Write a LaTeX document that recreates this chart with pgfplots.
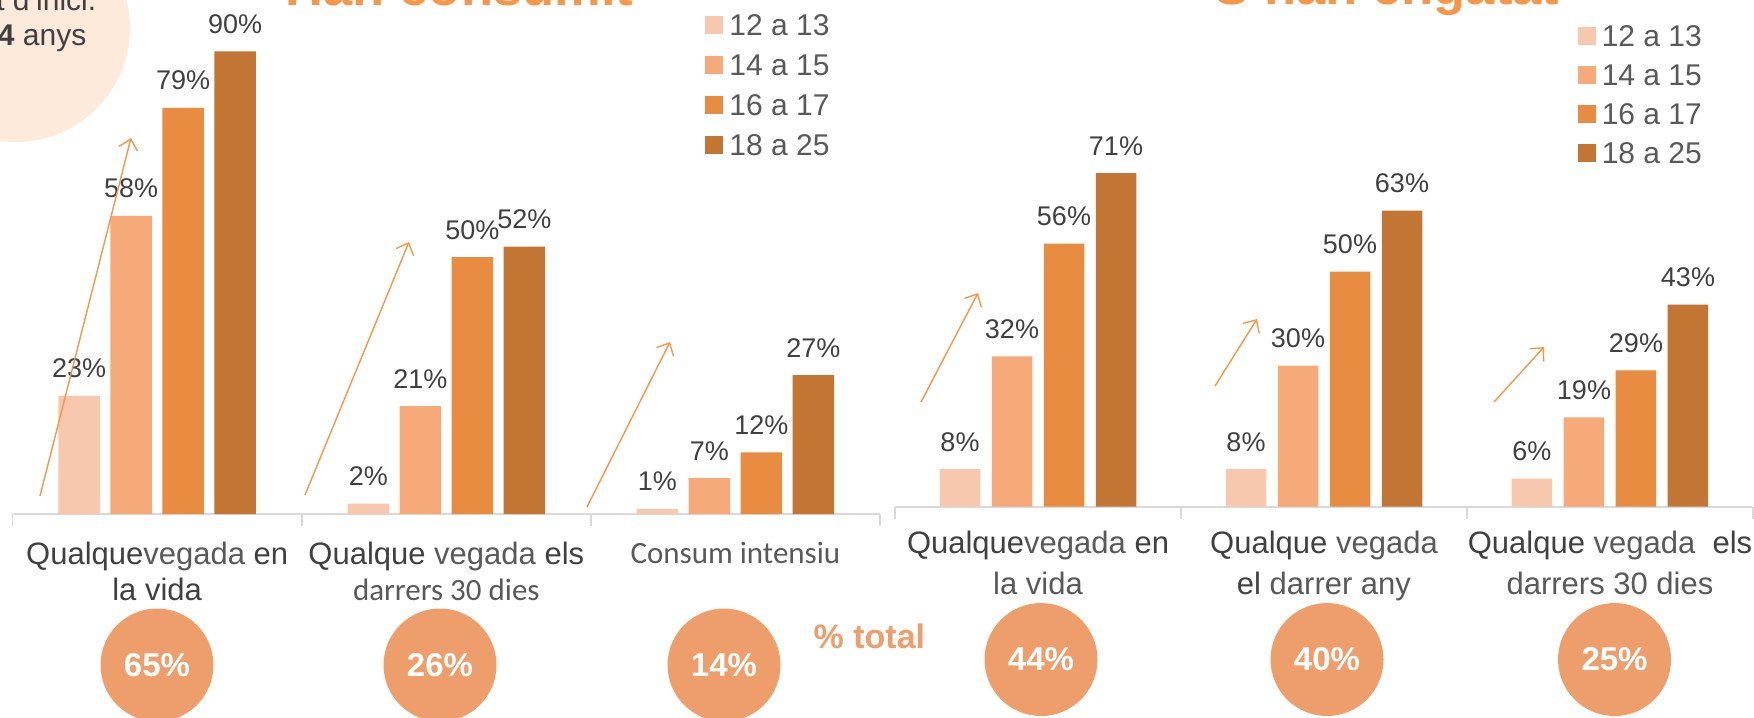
\documentclass[border=0pt]{standalone}
\usepackage{fontspec}
\setmainfont{Liberation Sans}
\newfontfamily\calibri{Carlito}
\usepackage{pgfplots}
\pgfplotsset{compat=1.18}
\usetikzlibrary{arrows.meta}

\definecolor{ageA}{HTML}{F8C8AE}
\definecolor{ageB}{HTML}{F6A979}
\definecolor{ageC}{HTML}{E78C41}
\definecolor{ageD}{HTML}{C37534}
\definecolor{titleor}{HTML}{F79646}
\definecolor{circor}{HTML}{EE9E6B}
\definecolor{peach}{HTML}{FDEADB}
\definecolor{txt}{HTML}{404040}
\definecolor{txtl}{HTML}{595959}
\definecolor{axline}{HTML}{D9D9D9}

\pgfplotsset{
  chart/.style={
    scale only axis, anchor=south west, clip=false,
    xmin=-0.5, xmax=2.5, ymin=0, ymax=100,
    hide y axis, axis x line*=bottom,
    x axis line style={draw=axline, line width=0.45pt},
    xtick={0,1,2}, x tick style={draw=none},
    major tick length=1.2mm, tick align=outside,
    extra x ticks={-0.5,0.5,1.5,2.5}, extra x tick labels={,,,},
    extra x tick style={x tick style={draw=axline, line width=0.45pt}},
    /pgf/number format/assume math mode=true,
    nodes near coords={\pgfmathprintnumber{\pgfplotspointmeta}\%},
    every node near coord/.append style={anchor=base, yshift=1.8mm, inner sep=0pt,
      text=txt, font=\fontsize{2.7mm}{2.7mm}\selectfont},
    every axis plot post/.append style={
      legend image code/.code={\fill[##1,draw=none] (0mm,-0.9mm) rectangle (1.8mm,0.9mm);}},
    legend style={draw=none, fill=none, inner sep=0pt, anchor=north west,
      font=\fontsize{3.0mm}{3.0mm}\selectfont, text=txtl,
      nodes={inner sep=0pt, text height=2.2mm, text depth=0pt},
      /tikz/every odd column/.append style={column sep=0.6mm}},
  }
}

\begin{document}
\begin{tikzpicture}[x=0.1mm, y=0.1mm, every node/.style={inner sep=0pt}]
\path[use as bounding box, clip] (0,0) rectangle (1754,717);

% circle with the age of first use, top left
\fill[peach] (16,689) circle[radius=11.4mm];
\node[anchor=base east, text=txt, font=\fontsize{3.0mm}{3.0mm}\selectfont] at (97,707) {Edat d'inici.};
\node[anchor=base east, text=txt, font=\fontsize{3.0mm}{3.0mm}\selectfont] at (87,672) {\textbf{14} anys};

% titles, cut by the top edge
\node[anchor=base west, text=titleor, font=\bfseries\fontsize{5.26mm}{5.26mm}\selectfont] at (285,712) {Han consumit};
\node[anchor=base east, text=titleor, font=\bfseries\fontsize{5.26mm}{5.26mm}\selectfont] at (1560,713) {S'han engatat};

\begin{axis}[chart,
  at={(1.26mm,20.3mm)}, width=86.74mm, height=51.4mm,
  ybar=1.05mm, bar width=4.15mm,
  xticklabel style={align=center, inner sep=0pt, text=txt,
    font=\fontsize{3.1mm}{3.55mm}\selectfont, yshift=-1.55mm},
  xticklabels={{Qualque\textcolor{txtl}{vegada} en\\la vida},
               {Qualque \textcolor{txtl}{vegada} els\\{\calibri\textcolor{txtl}{darrers 30 dies}}},
               {{\calibri\textcolor{txtl}{Consum intensiu}}}},
  legend style={at={(0.798,0.975)}, row sep=1.8mm},
]
\addplot[fill=ageA, draw=none] coordinates {(0,23) (1,2) (2,1)};
\addplot[fill=ageB, draw=none] coordinates {(0,58) (1,21) (2,7)};
\addplot[fill=ageC, draw=none] coordinates {(0,79) (1,50) (2,12)};
\addplot[fill=ageD, draw=none] coordinates {(0,90) (1,52) (2,27)};
\legend{12 a 13,14 a 15,16 a 17,18 a 25}
\end{axis}

\begin{axis}[chart,
  at={(89.5mm,21.03mm)}, width=85.8mm, height=47mm,
  ybar=1.15mm, bar width=4.05mm,
  xticklabel style={align=center, inner sep=0pt, text=txt,
    font=\fontsize{3.1mm}{4.1mm}\selectfont, yshift=-1.2mm},
  xticklabels={{Qualque\textcolor{txtl}{vegada} en\\\textcolor{txtl}{la vida}},
               {Qualque \textcolor{txtl}{vegada}\\el \textcolor{txtl}{darrer any}},
               {Qualque \textcolor{txtl}{vegada} \ els\\\textcolor{txtl}{darrers 30 dies}}},
  legend style={at={(0.795,1.027)}, row sep=1.7mm},
]
\addplot[fill=ageA, draw=none] coordinates {(0,8) (1,8) (2,6)};
\addplot[fill=ageB, draw=none] coordinates {(0,32) (1,30) (2,19)};
\addplot[fill=ageC, draw=none] coordinates {(0,56) (1,50) (2,29)};
\addplot[fill=ageD, draw=none] coordinates {(0,71) (1,63) (2,43)};
\legend{12 a 13,14 a 15,16 a 17,18 a 25}
\end{axis}

% rising arrows
\begin{scope}[draw=titleor, line width=0.4pt, -{Straight Barb[length=1mm,width=1.9mm]}]
\draw (40,221) -- (131,579);
\draw (305,222) -- (409,475);
\draw (587,210) -- (670,375);
\draw (921,315) -- (978,424);
\draw (1215,331) -- (1257,398);
\draw (1494,315) -- (1544,370);
\end{scope}

% totals
\node[anchor=base west, text=circor, font=\bfseries\fontsize{3.4mm}{3.4mm}\selectfont] at (813,69) {\% total};
\foreach \cx/\cy/\v in {157/52/65, 440/52/26, 724/52/14, 1041/57.5/44, 1327/57.5/40, 1614.5/57.5/25}{
  \fill[circor] (\cx,\cy) circle[radius=5.65mm];
  \node[text=white, font=\bfseries\fontsize{3.3mm}{3.3mm}\selectfont] at (\cx,\cy) {\v\%};
}
\end{tikzpicture}
\end{document}
